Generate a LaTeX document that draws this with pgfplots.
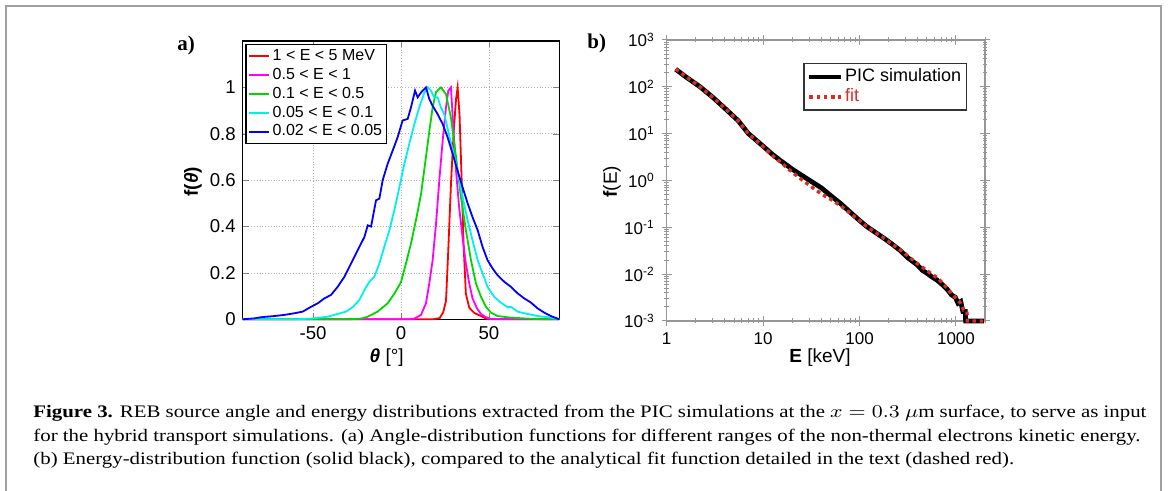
\documentclass[border=0pt]{standalone}
\usepackage{pgfplots}
\pgfplotsset{compat=1.18}
\usepackage{fontspec}
\usepackage{graphicx}
\setmainfont{Liberation Sans}
\newfontfamily\capfont{Liberation Serif}

\definecolor{mygreen}{RGB}{0,215,0}
\definecolor{mymag}{RGB}{255,0,255}
\definecolor{mycyan}{RGB}{0,240,240}
\definecolor{myblue}{RGB}{0,0,255}
\definecolor{myred}{RGB}{255,0,0}
\definecolor{fitred}{RGB}{215,45,35}
\definecolor{axgray}{RGB}{150,150,150}

% caption: one horizontal squeeze for all lines, taken from the widest line
\newsavebox\linebox
\newlength\linew
\newcommand\capsize{\capfont\fontsize{8.8}{10}\selectfont}
\newcommand\widestline{for the hybrid transport simulations. (a) Angle-distribution functions for different ranges of the non-thermal electrons kinetic energy.}
\newcommand\setcapscale{\sbox\linebox{\capsize\widestline}\setlength\linew{\wd\linebox}%
  \pgfmathsetmacro\capscale{553.5pt/\linew}}
\newcommand\capline[1]{\scalebox{\capscale}[1]{#1}}

\begin{document}
\setcapscale
\begin{tikzpicture}[x=0.5pt,y=0.5pt]
\useasboundingbox (0,0) rectangle (1168,491);
\draw[axgray!90,line width=1pt] (6,0) -- (6,485) -- (1161,485) -- (1161,0);

% ---------- panel a ----------
\begin{axis}[
    at={(121.35pt,85.85pt)}, anchor=south west,
    scale only axis, width=158.3pt, height=139.15pt,
    xmin=-90, xmax=90, ymin=0, ymax=1.2,
    xtick={-50,0,50}, ytick={0,0.2,0.4,0.6,0.8,1},
    tick align=inside, major tick length=3pt,
    grid=major, grid style={densely dotted, gray!60},
    axis line style={line width=0.7pt},
    ticklabel style={font=\fontsize{9.3}{11}\selectfont},
    /pgf/number format/assume math mode=true,
    clip=false,
    legend cell align=left,
    legend style={at={(axis description cs:0,1)}, anchor=north west,
        xshift=1.3pt, yshift=-1.5pt, draw=black, line width=0.7pt,
        font=\fontsize{8}{9.5}\selectfont, inner sep=1pt,
        nodes={inner sep=1.2pt}},
    legend image code/.code={\draw[#1] (0cm,0cm) -- (0.36cm,0cm);},
    every axis plot/.append style={line width=0.9pt},
]
\addplot[myred] coordinates {
(-90,0)(18,0)(22,0.005)(24,0.03)(25.6,0.08)(26.9,0.3)(28.4,0.58)(29.9,0.8)
(31.3,0.95)(32.2,1)(33.3,0.88)(34.5,0.6)(35.6,0.32)(36.9,0.11)(38.8,0.05)
(41.7,0.027)(45.5,0.014)(48.3,0.003)(50,0)(90,0)};
\addlegendentry{1 < E < 5 MeV}
\addplot[mymag] coordinates {
(-90,0)(5,0)(7.6,0.003)(11.4,0.019)(14.2,0.069)(16.1,0.155)(18,0.255)
(19.9,0.41)(21.8,0.6)(23.7,0.77)(25.6,0.914)(26.9,0.986)(28.4,1)(29.9,0.81)
(31.3,0.64)(33.1,0.48)(35,0.355)(36.9,0.24)(38.8,0.155)(40.7,0.09)
(43.2,0.047)(45.5,0.023)(48.3,0.009)(51.1,0.001)(90,0)};
\addlegendentry{0.5 < E < 1}
\addplot[mygreen] coordinates {
(-90,0)(-30,0)(-22.7,0.003)(-18.9,0.011)(-13.3,0.033)(-7.6,0.069)(-3.8,0.11)
(0,0.16)(2.8,0.24)(5.7,0.327)(8.5,0.427)(11.4,0.54)(14.2,0.7)(16.1,0.81)
(18,0.914)(19.9,0.98)(22.7,1)(25.6,0.97)(28.4,0.87)(31.3,0.7)(34.1,0.527)
(36.9,0.384)(39.8,0.255)(42.6,0.155)(45.5,0.097)(48.3,0.054)(51.1,0.029)
(54.9,0.014)(62.5,0.007)(72,0.003)(81.4,0)(90,0)};
\addlegendentry{0.1 < E < 0.5}
\addplot[mycyan] coordinates {
(-90,0)(-60,0)(-51,0.003)(-41.7,0.011)(-36,0.023)(-31.3,0.033)(-27.5,0.052)
(-23.7,0.083)(-20.8,0.126)(-18,0.162)(-15.2,0.183)(-12.3,0.24)(-9.5,0.312)
(-6.6,0.384)(-3.8,0.47)(-0.9,0.57)(1.9,0.67)(4.7,0.756)(7.6,0.842)
(10.4,0.914)(13.3,0.978)(15.2,1)(17,0.986)(18.9,0.957)(20.8,0.957)
(22.7,0.914)(24.6,0.885)(26.9,0.81)(29.4,0.728)(32.2,0.64)(35,0.527)
(37.9,0.427)(40.7,0.34)(43.6,0.255)(46.4,0.198)(49.2,0.14)(53,0.097)
(56.8,0.072)(60.6,0.052)(62.5,0.054)(66.3,0.033)(72,0.023)(77.7,0.014)
(83.3,0.009)(89,0.003)(90,0)};
\addlegendentry{0.05 < E < 0.1}
\addplot[myblue] coordinates {
(-90,0)(-83.3,0.004)(-79.5,0.009)(-72,0.014)(-66.3,0.019)(-60.6,0.026)
(-55.9,0.033)(-51.1,0.054)(-47.3,0.069)(-43.6,0.09)(-39.8,0.105)(-36,0.14)
(-32.2,0.183)(-28.4,0.24)(-24.6,0.298)(-20.8,0.355)(-18.9,0.405)(-17,0.4)
(-14.2,0.513)(-12.3,0.52)(-10.4,0.6)(-7.6,0.67)(-4.7,0.728)(-1.9,0.785)
(0.9,0.857)(3.8,0.864)(5.7,0.914)(8,0.986)(9.5,0.957)(11.4,0.978)(14.2,1)
(16.1,0.95)(18,0.92)(20.8,0.885)(23.7,0.842)(26.5,0.785)(29.4,0.713)
(32.2,0.64)(35,0.57)(37.9,0.5)(40.7,0.44)(43.6,0.384)(46.4,0.312)
(49.2,0.255)(52.1,0.219)(54.9,0.19)(58.7,0.162)(62.5,0.14)(66.3,0.112)
(70.1,0.09)(73.9,0.072)(77.7,0.047)(81.4,0.029)(85.2,0.014)(89,0.003)(90,0)};
\addlegendentry{0.02 < E < 0.05}
\end{axis}

% ---------- panel b ----------
\begin{axis}[
    at={(333.35pt,85pt)}, anchor=south west,
    scale only axis, width=159.15pt, height=140.5pt,
    xmode=log, ymode=log,
    xmin=1, xmax=2000, ymin=1e-3, ymax=1e3,
    xtick={1,10,100,1000}, xticklabels={1,10,100,1000},
    minor xtick={2,3,4,5,6,7,8,9,20,30,40,50,60,70,80,90,200,300,400,500,600,700,800,900,2000},
    ytick={1e-3,1e-2,1e-1,1,10,100,1000},
    yticklabels={10\textsuperscript{-3},10\textsuperscript{-2},10\textsuperscript{-1},10\textsuperscript{0},10\textsuperscript{1},10\textsuperscript{2},10\textsuperscript{3}},
    minor ytick={2e-3,3e-3,4e-3,5e-3,6e-3,7e-3,8e-3,9e-3,2e-2,3e-2,4e-2,5e-2,6e-2,7e-2,8e-2,9e-2,0.2,0.3,0.4,0.5,0.6,0.7,0.8,0.9,2,3,4,5,6,7,8,9,20,30,40,50,60,70,80,90,200,300,400,500,600,700,800,900},
    axis line style={axgray, line width=0.7pt},
    tick style={axgray, line width=0.5pt},
    tick align=center, major tick length=5pt, minor tick length=2.5pt,
    ticklabel style={font=\fontsize{8.5}{10}\selectfont},
    clip=false,
    legend cell align=left,
    legend style={at={(axis description cs:1,1)}, anchor=north east,
        xshift=-9.15pt, yshift=-11.65pt, draw=black!80, line width=0.6pt,
        font=\fontsize{9}{10}\selectfont, inner sep=1.5pt,
        nodes={inner sep=1pt}},
    legend image code/.code={\draw[#1] (0cm,0cm) -- (0.55cm,0cm);},
]
\addplot[black, line width=2.4pt] coordinates {
(1.24,237)(1.6,160)(2.22,100)(3,60)(4,35)(5.5,19)(7.05,10)(8.5,7.2)(10.1,5.3)
(12.5,3.6)(15,2.7)(20,1.75)(25,1.3)(30.5,1)(40,0.7)(50,0.48)(65,0.31)(80,0.21)
(100,0.14)(118,0.105)(150,0.075)(180,0.058)(220,0.043)(264,0.032)(320,0.022)
(394,0.016)(450,0.012)(500,0.0105)(560,0.0088)(635,0.0075)(720,0.006)
(807,0.0048)(900,0.0036)(985,0.0032)(1050,0.0024)(1120,0.0026)(1180,0.0016)
(1250,0.0016)(1260,0.001)(1950,0.001)};
\addlegendentry{PIC simulation}
\addplot[fitred, line width=1.7pt, dash pattern=on 1.8pt off 1.8pt] coordinates {
(1.24,240)(1.6,162)(2.22,100)(3,60)(4,35)(5.5,19)(7.05,10)(8.5,7.1)(10.1,5.2)
(12.5,3.4)(15,2.5)(20,1.5)(25,1.05)(30.5,0.78)(40,0.52)(50,0.4)(65,0.28)
(80,0.2)(100,0.14)(118,0.105)(150,0.075)(180,0.058)(220,0.043)(264,0.033)
(320,0.024)(394,0.017)(450,0.014)(500,0.012)(560,0.01)(635,0.0085)
(720,0.0066)(807,0.005)(900,0.0038)(985,0.0032)(1100,0.0025)(1200,0.0017)
(1300,0.0016)(1310,0.001)(1950,0.001)};
\addlegendentry{\textcolor{fitred}{fit}}
\end{axis}

% ---------- labels ----------
\node[font=\capfont\bfseries\fontsize{10.5}{12}\selectfont] at (186,446) {a)};
\node[font=\capfont\bfseries\fontsize{10.5}{12}\selectfont] at (596.7,447.7) {b)};
\node[rotate=90, font=\bfseries\fontsize{9.5}{11}\selectfont] at (193,309.3) {f(\textit{θ})};
\node[font=\fontsize{9.5}{11}\selectfont] at (386.7,133) {\textbf{\textit{θ}} [°]};
\node[rotate=90, font=\fontsize{9.5}{11}\selectfont] at (612,309.3) {\textbf{f}(E)};
\node[font=\fontsize{9.5}{11}\selectfont] at (820,133) {\textbf{E} [keV]};

% ---------- caption ----------
\begin{scope}[every node/.style={anchor=base west, inner sep=0pt, font=\capsize}]
\node at (33,73) {\capline{\textbf{Figure 3.} REB source angle and energy distributions extracted from the PIC simulations at the $x = 0.3~\mu$m surface, to serve as input}};
\node at (33,49.5) {\capline{\widestline}};
\node at (33,26) {\capline{(b) Energy-distribution function (solid black), compared to the analytical fit function detailed in the text (dashed red).}};
\end{scope}
\end{tikzpicture}
\end{document}
